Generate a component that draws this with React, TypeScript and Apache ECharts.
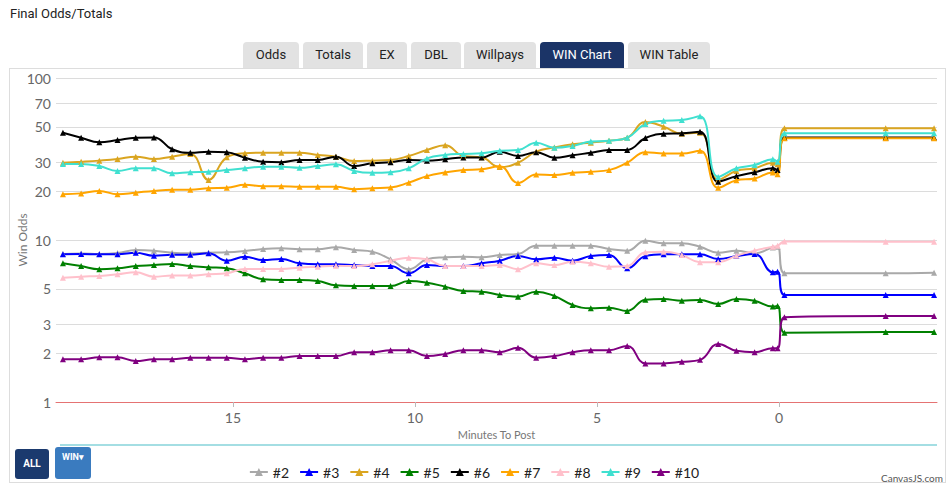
import React, { useEffect, useRef } from 'react';
import * as echarts from 'echarts';

// minutes to post for every sample (x positions)
const minutes = [19.67, 19.17, 18.67, 18.17, 17.67, 17.17, 16.67, 16.17, 15.67, 15.17,
  14.67, 14.17, 13.67, 13.17, 12.67, 12.17, 11.67, 11.17, 10.67, 10.17,
  9.67, 9.17, 8.67, 8.17, 7.67, 7.17, 6.67, 6.17, 5.67, 5.17,
  4.67, 4.17, 3.67, 3.17, 2.67, 2.17, 1.67, 1.17, 0.67, 0.17,
  0.04, -0.15, -2.93, -4.26];

const odds2 = [8.2, 8.25, 8.2, 8.3, 8.68, 8.59, 8.35, 8.28, 8.35, 8.39,
  8.55, 8.8, 8.89, 8.77, 8.77, 9.02, 8.68, 8.47, 7.6, 6.6,
  7.6, 7.82, 7.89, 7.82, 8.08, 8.2, 9.22, 9.22, 9.22, 9.22,
  8.8, 8.59, 9.9, 9.55, 9.55, 9.09, 8.35, 8.59, 8.28, 9.0,
  9.1, 6.23, 6.23, 6.28];
const odds3 = [8.16, 8.2, 8.16, 8.16, 8.35, 8.0, 8.1, 8.1, 8.28, 7.45,
  7.89, 7.52, 7.63, 7.18, 7.08, 7.08, 7.0, 6.9, 6.9, 6.23,
  7.0, 6.9, 6.9, 7.18, 7.45, 7.96, 7.6, 7.78, 7.45, 7.96,
  8.08, 6.69, 7.95, 8.16, 8.16, 8.16, 7.63, 7.96, 8.2, 6.32,
  6.37, 4.58, 4.58, 4.58];
const odds4 = [30.0, 30.4, 30.9, 31.6, 32.7, 31.6, 32.7, 34.0, 23.5, 32.4,
  34.3, 34.6, 34.6, 34.6, 33.5, 32.7, 30.7, 30.9, 31.2, 33.0,
  35.9, 38.4, 33.0, 32.4, 28.2, 30.0, 35.1, 37.3, 39.0, 39.9,
  41.0, 42.8, 53.5, 50.1, 45.2, 46.0, 23.5, 26.7, 27.7, 30.0,
  29.4, 48.9, 48.9, 48.9];
const odds5 = [7.18, 6.9, 6.6, 6.69, 6.9, 7.0, 7.11, 6.9, 6.78, 6.69,
  6.23, 5.72, 5.66, 5.66, 5.58, 5.25, 5.2, 5.2, 5.2, 5.58,
  5.45, 5.15, 4.84, 4.8, 4.58, 4.47, 4.8, 4.51, 3.97, 3.79,
  3.82, 3.65, 4.28, 4.32, 4.22, 4.26, 4.03, 4.32, 4.22, 3.88,
  3.91, 2.68, 2.7, 2.7];
const odds6 = [45.9, 42.8, 40.1, 41.4, 42.8, 43.0, 36.3, 34.6, 35.1, 34.8,
  32.2, 30.4, 30.2, 31.2, 31.2, 32.7, 28.6, 29.8, 30.2, 31.2,
  30.9, 31.5, 32.3, 32.3, 35.0, 33.0, 34.8, 32.2, 33.3, 34.6,
  35.9, 36.0, 42.6, 45.2, 45.6, 46.5, 22.9, 24.8, 26.2, 27.7,
  27.0, 43.0, 43.0, 43.0];
const odds7 = [19.15, 19.4, 20.1, 19.15, 19.6, 20.1, 20.4, 20.4, 20.9, 21.0,
  21.9, 21.5, 21.5, 21.3, 21.3, 21.3, 20.6, 20.9, 21.1, 22.6,
  24.8, 26.1, 27.0, 27.3, 28.5, 22.5, 25.4, 25.2, 26.0, 26.4,
  27.0, 30.0, 34.8, 34.2, 34.2, 35.5, 21.0, 23.4, 24.0, 26.1,
  25.5, 42.4, 42.4, 42.4];
const odds8 = [5.85, 5.94, 6.0, 6.14, 6.32, 5.94, 6.03, 6.03, 6.14, 6.23,
  6.62, 6.62, 6.62, 6.75, 6.84, 6.94, 6.9, 7.08, 7.45, 7.78,
  7.6, 6.9, 6.9, 6.9, 7.0, 6.6, 7.18, 7.0, 7.33, 7.18,
  6.84, 6.9, 8.4, 8.47, 8.08, 7.3, 7.3, 8.0, 8.6, 9.1,
  9.2, 9.8, 9.75, 9.75];
const odds9 = [29.5, 29.5, 28.6, 26.7, 27.7, 27.7, 25.8, 26.2, 26.4, 27.0,
  27.7, 28.3, 28.3, 27.9, 28.6, 29.3, 26.7, 26.0, 26.2, 27.7,
  31.9, 33.5, 34.0, 34.3, 35.5, 35.9, 39.9, 37.1, 38.1, 40.5,
  41.0, 42.8, 52.0, 54.5, 55.0, 58.0, 24.5, 27.7, 29.0, 31.5,
  30.4, 45.6, 45.6, 45.6];
const odds10 = [1.835, 1.835, 1.888, 1.888, 1.79, 1.835, 1.835, 1.877, 1.877, 1.877,
  1.835, 1.877, 1.877, 1.923, 1.923, 1.923, 2.03, 2.03, 2.09, 2.09,
  1.92, 1.98, 2.09, 2.09, 2.03, 2.16, 1.877, 1.92, 2.03, 2.09,
  2.09, 2.22, 1.73, 1.73, 1.77, 1.82, 2.28, 2.07, 2.03, 2.15,
  2.15, 3.33, 3.4, 3.4];

const seriesNames = ['#2', '#3', '#4', '#5', '#6', '#7', '#8', '#9', '#10'];
const seriesValues = [odds2, odds3, odds4, odds5, odds6, odds7, odds8, odds9, odds10];
const seriesColors = ['#A9A9A9', '#0000FF', '#DAA520', '#008000', '#000000', '#FFA500', '#FFC0CB', '#40E0D0', '#800080'];

const yTickValues = [1, 2, 3, 5, 10, 20, 30, 50, 70, 100];
const xTickValues = [15, 10, 5, 0];

const tabs = ['Odds', 'Totals', 'EX', 'DBL', 'Willpays', 'WIN Chart', 'WIN Table'];
const tabLefts = [243, 303, 367, 411, 464, 540, 628];
const tabWidths = [56, 60, 40, 50, 72, 84, 82];
const activeTab = 'WIN Chart';

const chartFont = '"Liberation Sans Narrow", Lato, "Noto Sans", sans-serif';

export default function App() {
  const ref = useRef<HTMLDivElement>(null);

  useEffect(() => {
    if (!ref.current) return;
    const chart = echarts.init(ref.current, null, { renderer: 'svg' });
    const log = (v: number) => Math.log10(v);
    const option: any = {
      animation: false,
      backgroundColor: 'transparent',
      textStyle: { fontFamily: chartFont },
      grid: { left: 56, top: 78, width: 881, height: 324, outerBoundsMode: 'none' },
      xAxis: {
        type: 'value',
        inverse: true,
        min: -4.34,
        max: 19.86,
        axisLine: { show: true, lineStyle: { color: '#E57373', width: 1 } },
        axisTick: { show: true, customValues: xTickValues, length: 5, lineStyle: { color: '#BBBBBB' } },
        axisLabel: { customValues: xTickValues, color: '#666', fontSize: 14, margin: 8, fontFamily: chartFont },
        splitLine: { show: false },
        name: 'Minutes To Post',
        nameLocation: 'middle',
        nameGap: 27,
        nameTextStyle: { color: '#777', fontSize: 11, fontFamily: chartFont },
      },
      yAxis: {
        type: 'value',
        min: 0,
        max: 2,
        axisLine: { show: false },
        axisTick: { show: false, customValues: yTickValues.map(log) },
        axisLabel: {
          customValues: yTickValues.map(log),
          color: '#666',
          fontSize: 14,
          margin: 5,
          fontFamily: chartFont,
          formatter: (v: number) => String(Math.round(Math.pow(10, v))),
        },
        splitLine: { show: true, lineStyle: { color: '#DCDCDC', width: 1 } },
      },
      legend: {
        data: seriesNames,
        top: 460,
        left: 'center',
        itemWidth: 18,
        itemHeight: 10,
        itemGap: 10,
        textStyle: { fontSize: 14, color: '#222', fontFamily: chartFont },
      },
      graphic: [
        {
          type: 'text', x: 22, y: 240, rotation: Math.PI / 2,
          style: { text: 'Win Odds', align: 'center', verticalAlign: 'middle', fontSize: 12, fill: '#777', fontFamily: chartFont },
        },
        {
          type: 'line', shape: { x1: 60, y1: 445, x2: 937, y2: 445 },
          style: { stroke: '#A4DEE3', lineWidth: 2 },
        },
        {
          type: 'text', x: 943, y: 478,
          style: { text: 'CanvasJS.com', align: 'right', verticalAlign: 'middle', fontSize: 10, fill: '#555', fontFamily: chartFont },
        },
      ],
      series: seriesNames.map((name, si) => ({
        type: 'line',
        name,
        data: minutes.map((t, i) => [t, log(seriesValues[si][i])]),
        smooth: 0.45,
        symbol: 'triangle',
        symbolSize: 6,
        showSymbol: true,
        lineStyle: { width: 2, color: seriesColors[si] },
        itemStyle: { color: seriesColors[si] },
        emphasis: { disabled: true },
      })),
    };
    chart.setOption(option);
    return () => chart.dispose();
  }, []);

  return (
    <div style={{ position: 'absolute', left: 0, top: 0, width: 948, height: 488, overflow: 'hidden', fontFamily: 'Roboto, "Noto Sans", sans-serif', background: '#fff' }}>
      <div style={{ position: 'absolute', left: 10, top: 6, fontSize: 13, lineHeight: '16px', color: '#222' }}>Final Odds/Totals</div>
      {tabs.map((t, i) => (
        <div key={t} style={{
          position: 'absolute', left: tabLefts[i], top: 42, width: tabWidths[i], height: 26,
          background: t === activeTab ? '#1B3467' : '#E2E2E2', color: t === activeTab ? '#fff' : '#222',
          borderRadius: '4px 4px 0 0', fontSize: 13, lineHeight: '26px', textAlign: 'center',
        }}>{t}</div>
      ))}
      <div style={{ position: 'absolute', left: 9, top: 68, width: 937, height: 415, border: '1px solid #DDDDDD', boxSizing: 'border-box' }} />
      <div ref={ref} style={{ position: 'absolute', left: 0, top: 0, width: 948, height: 488 }} />
      <div style={{ position: 'absolute', left: 15, top: 449, width: 34, height: 30, background: '#1B3A6E', borderRadius: 3, color: '#fff', fontSize: 10, fontWeight: 700, lineHeight: '30px', textAlign: 'center' }}>ALL</div>
      <div style={{ position: 'absolute', left: 55, top: 447, width: 36, height: 32, background: '#3A7BBF', borderRadius: 3, color: '#fff', fontSize: 9, fontWeight: 700, lineHeight: '20px', textAlign: 'center' }}>WIN▾</div>
    </div>
  );
}
